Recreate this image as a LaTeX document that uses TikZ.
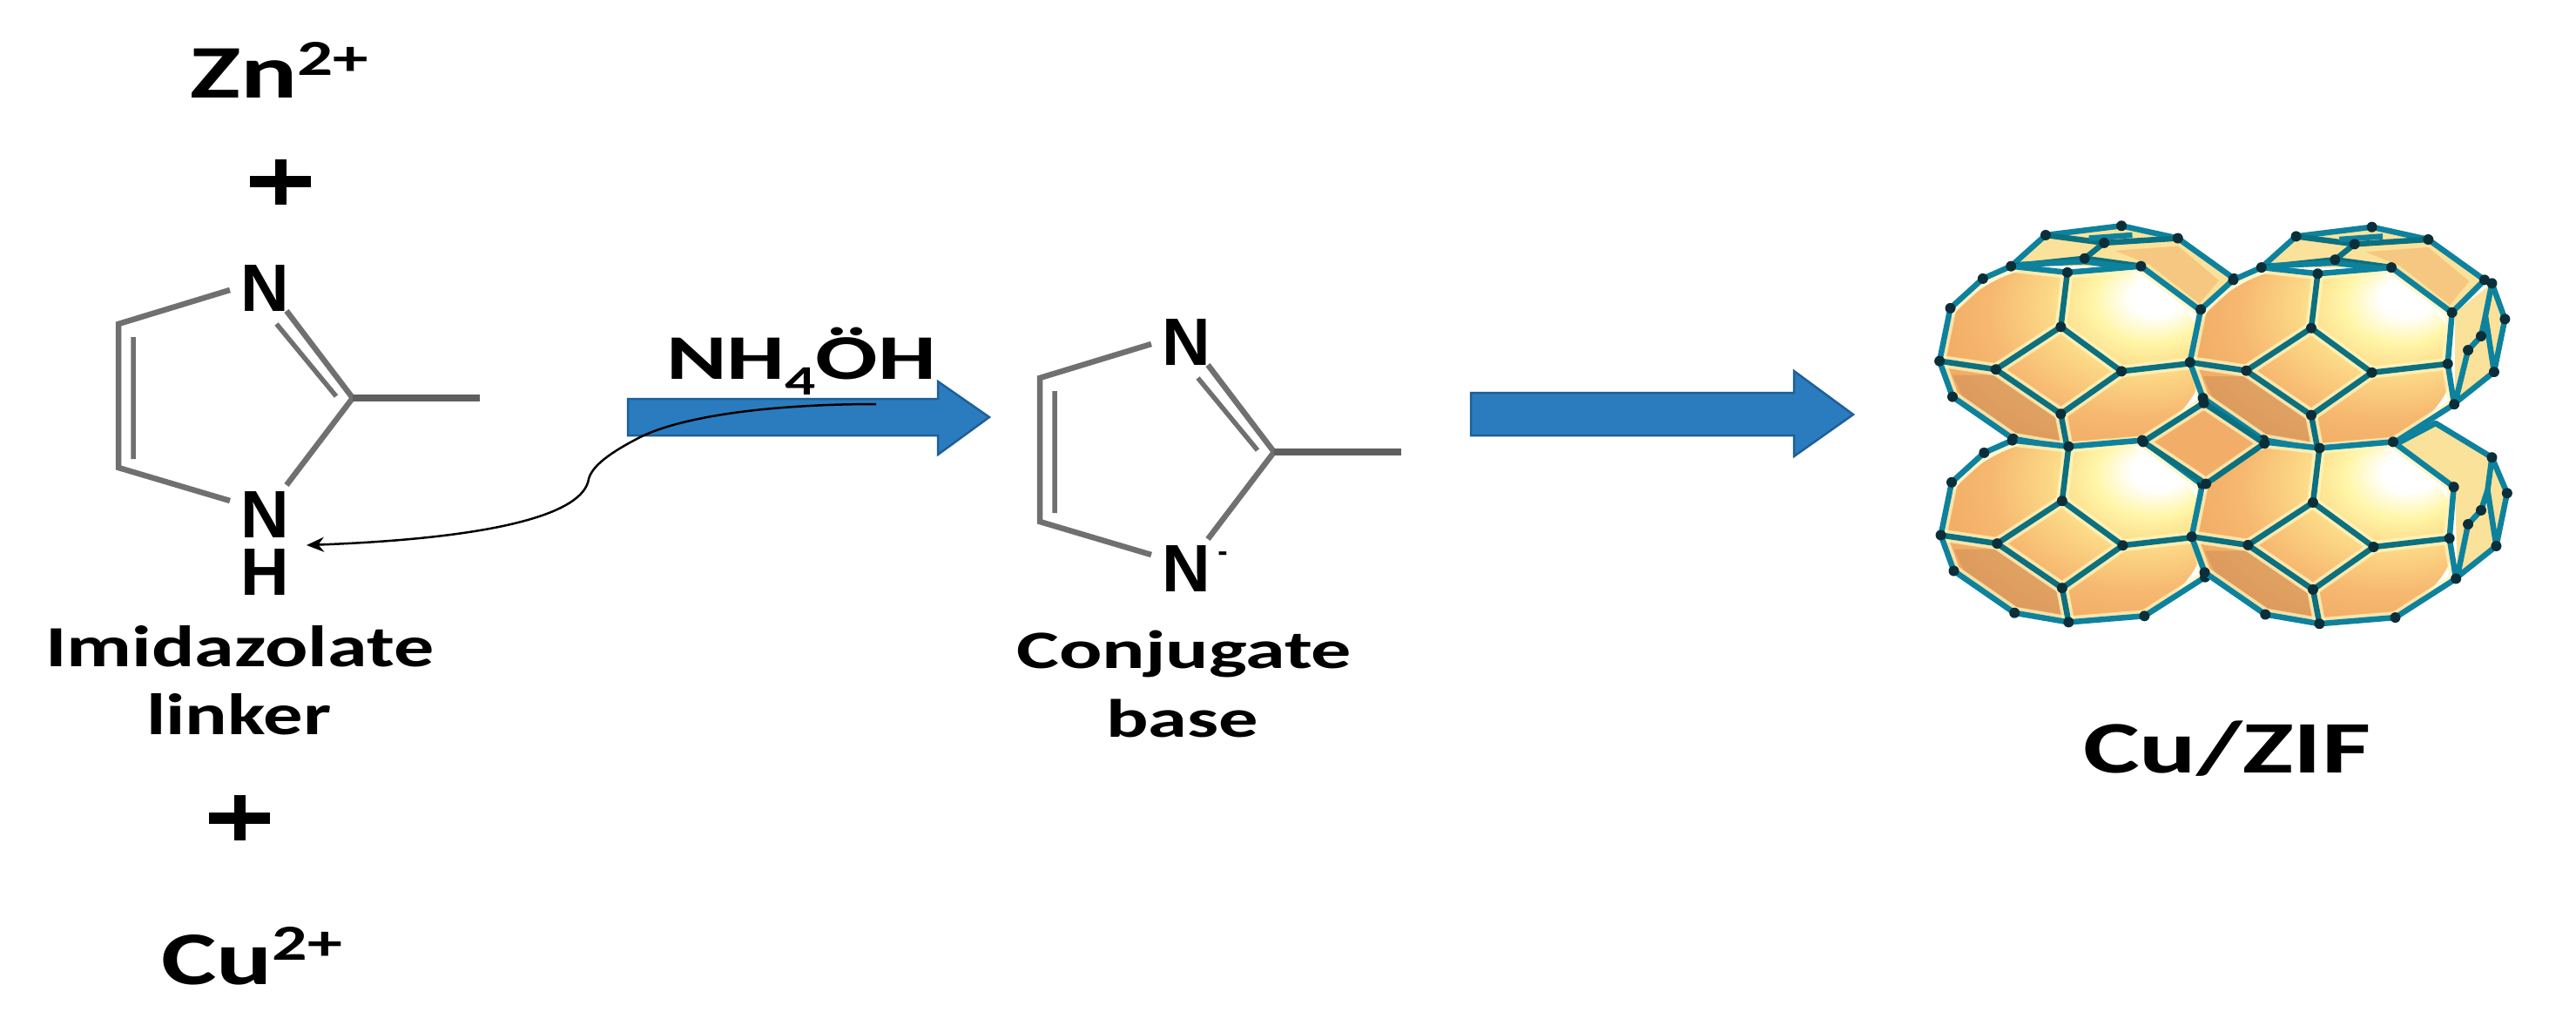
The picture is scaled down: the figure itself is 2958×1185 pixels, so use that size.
\documentclass[tikz,border=0pt]{standalone}
\usepackage{fontspec}
\setmainfont{Carlito}
\newfontfamily\atomfont{Liberation Sans}
\usetikzlibrary{arrows.meta}
\definecolor{arrowblue}{HTML}{2A7CBE}
\definecolor{arrowedge}{HTML}{1F5F99}
\definecolor{bondgrey}{HTML}{707070}
\definecolor{cageteal}{HTML}{0B7080}
\definecolor{cageblue}{HTML}{1090B4}
\definecolor{cagedot}{HTML}{0B2F3A}
\definecolor{facedark}{HTML}{B98050}
\definecolor{backyellow}{HTML}{FBE29A}
\definecolor{cageorange}{HTML}{F2AE68}
\definecolor{haloyellow}{HTML}{FFF6BE}
\definecolor{sphA}{HTML}{FFF6A8}
\definecolor{sphB}{HTML}{FCD987}
\definecolor{sphC}{HTML}{F6B870}
\definecolor{sphD}{HTML}{EEA45E}
\pgfdeclareradialshading{cagesph}{\pgfpoint{17bp}{17bp}}{%
  color(0bp)=(white);
  color(5bp)=(white);
  color(11bp)=(sphA);
  color(18bp)=(sphB);
  color(28bp)=(sphC);
  color(42bp)=(sphD);
  color(100bp)=(sphD)}
\tikzset{
  atom/.style={anchor=base,inner sep=0pt,font=\atomfont\bfseries\fontsize{77}{77}\selectfont},
  lab/.style={anchor=base west,inner sep=0pt},
  plussign/.style={draw=black,line width=13pt},
  bond/.style={draw=bondgrey,line width=6.5pt,line join=miter},
  innerbond/.style={draw=bondgrey,line width=5.5pt},
  methyl/.style={draw=bondgrey!85!black,line width=8.5pt},
  blockarrow/.style={fill=arrowblue,draw=arrowedge,line width=2.5pt,line join=miter},
  cagelines/.style={draw=cageteal,line width=6.5pt,line join=round},
  cagerim/.style={draw=cageblue!55!cageteal,line width=6.5pt,line join=round},
  halo/.style={draw=haloyellow,line width=14pt,line join=round,opacity=.75},
}
% exact-width bold label: width, font size, text
\newcommand\fitlab[3]{\resizebox{#1pt}{\height}{\fontsize{#2}{#2}\selectfont\bfseries #3}}
\newcommand\supsc[2]{\raisebox{#1pt}{\fontsize{58}{58}\selectfont #2}}
\newcommand\cagedots[1]{\foreach \p in {#1}{\fill[cagedot] \p circle[radius=6pt];}}
\def\cagepoly{(320,240)--(450,260)--(620,240)--(760,385)--(750,550)--(765,680)--(625,805)--(450,825)--(325,795)--(185,660)--(155,545)--(180,375)--(255,280)--cycle}
\def\cagediamond{(435,435)--(575,578)--(435,715)--(285,572)--cycle}
\def\cagespokes{(435,435)--(450,260) (575,578)--(750,550) (435,715)--(450,825) (285,572)--(155,545)}
\def\centresquare{(765,680)--(905,810)--(770,940)--(625,805)--cycle}
\newcommand\cageunit[2]{%
  \begin{scope}[shift={(#1,#2)}]
    \fill[white] \cagepoly;
    \begin{scope}
      \clip \cagepoly;
      \shade[shading=cagesph] (460,535) ellipse [x radius=305,y radius=305];
      \fill[facedark,opacity=.35] (185,590)--(285,590)--(425,725)--(440,830)--(320,790)--(215,680)--cycle;
      \draw[halo] \cagepoly;
      \draw[halo] \cagediamond;
      \draw[halo] \cagespokes;
    \end{scope}
    \draw[cagerim] \cagepoly;
    \draw[cagelines] \cagediamond;
    \draw[cagelines] \cagespokes;
    \cagedots{(320,240),(450,260),(620,240),(760,385),(750,550),(765,680),(625,805),(450,825),(325,795),(185,660),(155,545),(180,375),(255,280),(435,435),(575,578),(435,715),(285,572)}
  \end{scope}}
\newcommand\cagetop[2]{%
  \begin{scope}[shift={(#1,#2)}]
    \fill[backyellow] (320,240)--(400,140)--(575,110)--(705,150)--(835,280)--(760,385)--(620,240)--cycle;
    \fill[cageorange,opacity=.5] (560,190)--(705,175)--(800,285)--(755,360)--(640,235)--cycle;
    \draw[cagerim] (320,240)--(400,140)--(575,110)--(705,150)--(835,280)--(760,385);
    \draw[cagelines] (400,140)--(535,165)--(705,150) (320,240)--(490,215)--(620,240) (535,165)--(490,215);
    \draw[cagerim] (340,235)--(490,225)--(600,245) (500,150)--(600,140);
    \cagedots{(400,140),(575,110),(705,150),(535,165),(490,215),(835,280)}
  \end{scope}}
\newcommand\imidazole{%
  \draw[bond] (264,333)--(136,372)--(136,537)--(264,575);
  \draw[bond] (329,557)--(405,457)--(329,357);
  \draw[innerbond] (153,387)--(153,527) (317.5,372)--(386,455);
  \draw[methyl] (405,457)--(551,457);}
\begin{document}
\begin{tikzpicture}[x=1pt,y=-1pt]
\useasboundingbox (0,0) rectangle (2958,1185);
\fill[white] (0,0) rectangle (2958,1185);

% ions and plus signs
\node[lab] (zn) at (218,113) {\fitlab{205}{87}{Zn\supsc{26}{2+}}};
\coordinate (plusA) at (322,209);
\draw[plussign] ([xshift=-35pt]plusA)--([xshift=35pt]plusA) ([yshift=-26pt]plusA)--([yshift=26pt]plusA);
\coordinate (plusB) at (275,939);
\draw[plussign] ([xshift=-35pt]plusB)--([xshift=35pt]plusB) ([yshift=-26pt]plusB)--([yshift=26pt]plusB);
\node[lab] (cu) at (185,1130) {\fitlab{208}{87}{Cu\supsc{28}{2+}}};

% imidazolate
\imidazole
\node[atom] (n1) at (304.5,357) {N};
\node[atom] (n2) at (304.5,617) {N};
\node[atom] (h1) at (304.5,683) {H};
\node[lab] (imid) at (52,765) {\fitlab{446}{67}{Imidazolate}};
\node[lab] (link) at (168,843) {\fitlab{212}{67}{linker}};

% first arrow
\draw[blockarrow] (721,458)--(1077,458)--(1077,438)--(1136,479)--(1077,522)--(1077,500)--(721,500)--cycle;
\node[lab] (nh) at (765,435) {\fitlab{310}{73}{NH\raisebox{-18pt}{\fontsize{48}{48}\selectfont 4}ÖH}};
\coordinate (crvstart) at (1006,464);
\coordinate (crvend) at (352,626);
\draw[black,line width=2.5pt,-{Stealth[length=20pt,width=17pt]}] (crvstart) .. controls (900,464) and (790,475) .. (735,502) .. controls (700,520) and (680,535) .. (676,550) .. controls (670,590) and (570,618) .. (crvend);

% conjugate base
\begin{scope}[shift={(1058,62)}]
\imidazole
\node[atom] (n3) at (304.5,357) {N};
\node[atom] (n4) at (304.5,617) {N};
\node[anchor=center,inner sep=0pt,font=\atomfont\bfseries\fontsize{34}{34}\selectfont] (minus) at (346,577) {-};
\end{scope}
\node[lab] (conj) at (1167,767) {\fitlab{385}{62}{Conjugate}};
\node[lab] (base) at (1270,846) {\fitlab{175}{62}{base}};

% second arrow
\draw[blockarrow] (1689,451)--(2060,451)--(2060,426)--(2128,476)--(2060,524)--(2060,500)--(1689,500)--cycle;

% cage
\begin{scope}[shift={(2150,220)},x=0.4975pt,y=-0.357pt]
  \cagetop{0}{0}
  \cagetop{578}{4}
  % right-hand back parts
  \fill[backyellow] (1345,390)--(1430,295)--(1460,410)--(1435,580)--(1345,680)--cycle;
  \draw[cagerim] (1430,295)--(1460,410)--(1435,580)--(1345,680) (1430,295)--(1415,400)--(1435,580) (1345,680)--(1375,510)--(1405,465)--(1415,400);
  \cagedots{(1430,295),(1460,410),(1435,580),(1405,465),(1375,510)}
  \fill[backyellow] (1205,815)--(1300,745)--(1430,855)--(1465,970)--(1440,1140)--(1350,1240)--(1345,950)--cycle;
  \draw[cagerim] (1205,815)--(1300,745)--(1430,855)--(1465,970)--(1440,1140)--(1350,1240) (1430,855)--(1420,960)--(1440,1140) (1350,1240)--(1375,1070)--(1405,1025)--(1420,960);
  \cagedots{(1430,855),(1465,970),(1440,1140),(1405,1025),(1375,1070)}
  \cageunit{0}{0}
  \cageunit{578}{4}
  \cageunit{3}{560}
  \cageunit{582}{565}
  % centre square, over the units
  \fill[cageorange] \centresquare;
  \begin{scope}
    \clip \centresquare;
    \draw[halo] \centresquare;
  \end{scope}
  \draw[cagelines] \centresquare;
  \cagedots{(765,680),(905,810),(770,940),(625,805)}
\end{scope}

\node[lab] (zif) at (2392,887) {\fitlab{330}{85}{Cu/ZIF}};
\end{tikzpicture}
\end{document}
